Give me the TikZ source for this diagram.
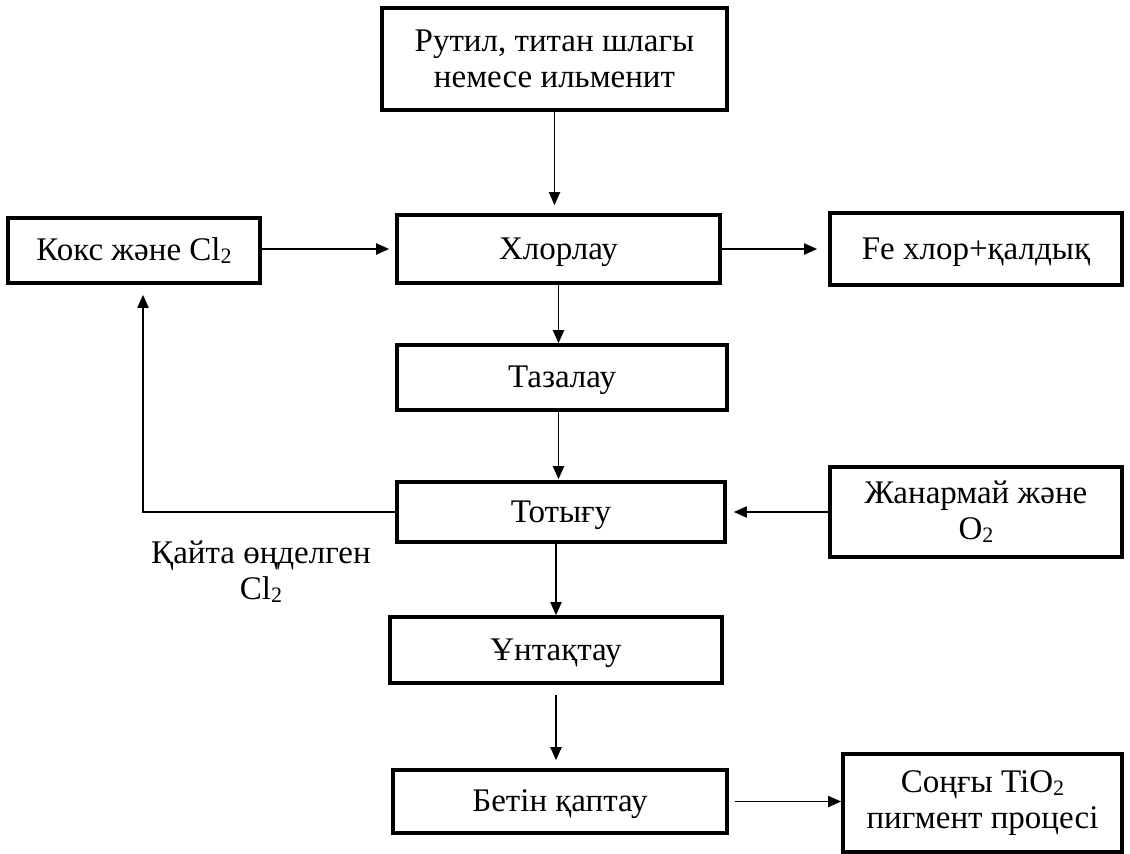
\documentclass[tikz,border=0pt]{standalone}
\usepackage{fontspec}
\setmainfont{Liberation Serif}
\usetikzlibrary{arrows.meta,calc,positioning}

\tikzset{
  stagebox/.style={draw, line width=3.6pt, align=center, inner sep=0pt,
    font=\fontsize{33}{36}\selectfont},
  oneline/.style={stagebox, text height=22pt, text depth=2pt},
  flowarrow/.style={line width=1.9pt, -{Triangle[length=13pt,width=11pt]}}
}
\newcommand{\subtwo}{\raisebox{-0.2ex}{\fontsize{22}{22}\selectfont 2}}

\begin{document}
\begin{tikzpicture}[x=1pt,y=-1pt]
  \useasboundingbox (0,0) rectangle (1130,854);
  % process column
  \node[stagebox, minimum width=345pt, minimum height=102pt] (rutil) at (554.5,59)
    {Рутил, титан шлагы\\немесе ильменит};
  \node[oneline, minimum width=323pt, minimum height=68pt] (hlor) at (558.5,249) {Хлорлау};
  \node[oneline, minimum width=330pt, minimum height=65pt] (taza) at (562,377.5) {Тазалау};
  \node[oneline, minimum width=328pt, minimum height=60pt] (toty) at (561,512) {Тотығу};
  \node[oneline, minimum width=332pt, minimum height=66pt] (untak) at (556,650) {Ұнтақтау};
  \node[oneline, minimum width=334pt, minimum height=63pt] (betin) at (560,801.5) {Бетін қаптау};
  % side inputs and outputs
  \node[oneline, minimum width=252pt, minimum height=65pt] (koks) at (134,250.5) {Кокс және Cl\subtwo};
  \node[oneline, minimum width=292pt, minimum height=72pt] (fe) at (976,249) {Fe хлор+қалдық};
  \node[stagebox, minimum width=292pt, minimum height=90pt] (zhan) at (976,512)
    {Жанармай және\\O\subtwo};
  \node[stagebox, minimum width=279pt, minimum height=98pt] (songy) at (982.5,803)
    {Соңғы TiO\subtwo\\пигмент процесі};
  \node[align=center, font=\fontsize{33}{36}\selectfont] (recycl) at (261,572)
    {Қайта өңделген\\Cl\subtwo};

  \coordinate (bend) at (143,512);

  % connectors
  \draw[flowarrow, shorten >=8pt] (rutil.south) -- (rutil.south |- hlor.north);
  \draw[flowarrow, shorten >=6pt] (koks.east |- hlor.west) -- (hlor.west);
  \draw[flowarrow, shorten >=11pt] (hlor.east) -- (fe.west);
  \draw[flowarrow] (hlor.south) -- (hlor.south |- taza.north);
  \draw[flowarrow, shorten >=1pt] (hlor.south |- taza.south) -- (hlor.south |- toty.north);
  \draw[flowarrow, shorten >=10pt] (toty.west) -- (bend) -- (bend |- koks.south);
  \draw[flowarrow, shorten >=7pt] (zhan.west) -- (toty.east);
  \draw[flowarrow] (untak.north |- toty.south) -- (untak.north);
  \draw[flowarrow, shorten <=10pt, shorten >=8pt] (untak.south) -- (untak.south |- betin.north);
  \draw[flowarrow, shorten <=6pt] (betin.east) -- (betin.east -| songy.west);
\end{tikzpicture}
\end{document}
